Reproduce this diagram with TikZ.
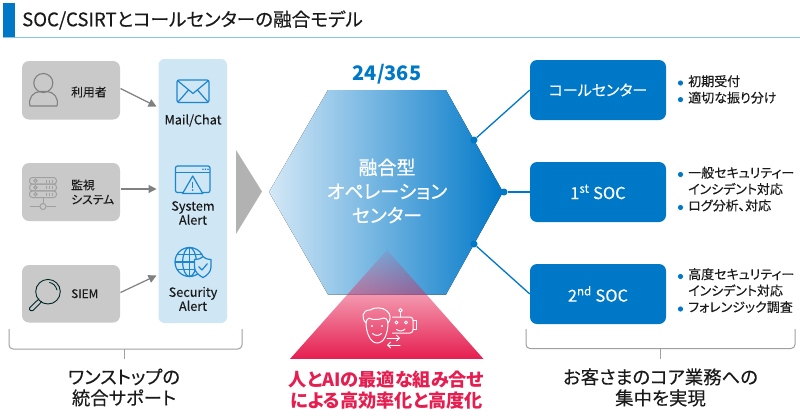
\documentclass[tikz,border=0pt]{standalone}
\usepackage{fontspec}
\setmainfont{Noto Sans CJK JP}[RawFeature=+palt,UprightFeatures={FakeBold=0.2}]
\newfontfamily\hexfont{Noto Sans CJK JP}[RawFeature=+palt,UprightFeatures={FakeBold=0.5}]
\usetikzlibrary{arrows.meta,fadings}
\definecolor{mainblue}{HTML}{0078C8}
\definecolor{iconblue}{HTML}{1A86D0}
\definecolor{panelblue}{HTML}{CFE6F5}
\definecolor{lightstart}{HTML}{D4E8F6}
\definecolor{boxgrey}{HTML}{C9C9C9}
\definecolor{arrowgrey}{HTML}{808080}
\definecolor{brgrey}{HTML}{A0A0A0}
\definecolor{ink}{HTML}{1A1A1A}
\definecolor{redtxt}{HTML}{E61E50}
\definecolor{underl}{HTML}{86C4E4}
\tikzfading[name=trifade,top color=transparent!92,bottom color=transparent!0]
\newcommand{\fs}[2]{\fontsize{#1}{#2}\selectfont}
\tikzset{
  greybox/.style={fill=boxgrey,rounded corners=7pt},
  bluebox/.style={fill=mainblue,rounded corners=7pt,minimum width=136pt,minimum height=60pt,inner sep=0pt,text=white,font=\fs{15}{18}},
  greytxt/.style={text=ink,font=\fs{11.8}{14.5},anchor=west,inner sep=0pt,align=left},
  paneltxt/.style={text=ink,font=\fs{12.7}{14},inner sep=0pt,align=center},
  bultxt/.style={text=ink,font=\fs{13}{16.4},anchor=north west,inner sep=0pt,align=left},
  bigtxt/.style={text=ink,font=\fs{18.4}{21},inner sep=0pt,align=center},
  feed/.style={draw=arrowgrey,line width=1.2pt,-{Triangle[length=8pt,width=8pt]}},
  link/.style={draw=mainblue,line width=1.3pt},
  lnkdot/.style={circle,fill=mainblue,minimum size=7pt,inner sep=0pt},
  bdot/.style={fill=mainblue},
  brack/.style={draw=brgrey,line width=1pt,rounded corners=4pt},
  icb/.style={draw=iconblue,line width=1.2pt,line join=round},
  ics/.style={draw=white,line width=1pt,line cap=round,line join=round},
}
\begin{document}
\begin{tikzpicture}[x=1pt,y=-1pt]
\useasboundingbox (0,0) rectangle (800,418);
\fill[white] (0,0) rectangle (800,418);
% header
\draw[underl,line width=1.2pt] (3,37.2) -- (800,37.2);
\fill[mainblue] (3,3) rectangle (15,37);
\node[anchor=west,inner sep=0pt,text=ink,font=\fs{18.6}{22}] (title) at (22,20) {SOC/CSIRTとコールセンターの融合モデル};
% left grey boxes
\fill[greybox] (22,61) rectangle (120,119.5);
\fill[greybox] (22,163) rectangle (120,221);
\fill[greybox] (22,265) rectangle (120,322.5);
\node[greytxt] (t1) at (71,92) {利用者};
\node[greytxt] (t2) at (71,192) {監視\\システム};
\node[greytxt] (t3) at (71,293.7) {SIEM};
% person icon
\draw[arrowgrey,line width=1.1pt] (43.3,83) circle (9.5);
\draw[arrowgrey,line width=1.1pt,line join=round] (30,106) .. controls (28,98) and (33,92) .. (40,91.5) -- (47,91.5) .. controls (54,92) and (59,98) .. (57,106) -- cycle;
% server icon
\begin{scope}[brgrey,line width=1pt]
\foreach \y in {177.5,184.2,190.9}{
  \draw[rounded corners=3pt] (29.5,\y) rectangle (56.5,\y+6.7);
  \draw (35.5,\y+3.3) circle (1.7);
  \draw (46,\y+2) -- (46,\y+5) (49,\y+2) -- (49,\y+5) (52,\y+2) -- (52,\y+5);
}
\draw (43,197.6) -- (43,203) (30,206.5) -- (40,206.5) (46,206.5) -- (56,206.5);
\draw (43,206.5) circle (3);
\end{scope}
% magnifier icon
\begin{scope}[line width=.9pt,line cap=round]
\draw[black!70!teal] (48,291.7) circle (12.3);
\draw[black!70!teal] (49.5,282.5) .. controls (53,283) and (56,286) .. (57,290);
\draw[black!70!teal,line join=round] (39,299) -- (35.5,302) -- (29.5,308) .. controls (29,311) and (32,311.5) .. (33,310.5) -- (39.5,304) -- (41.5,301.5);
\end{scope}
% panel
\fill[panelblue,rounded corners=6pt] (158.5,59) rectangle (227,323);
\node[paneltxt] (p1) at (193,120.5) {Mail/Chat};
\node[paneltxt] (p2) at (193,213) {System\\Alert};
\node[paneltxt] (p3) at (193,299) {Security\\Alert};
% mail icon
\draw[icb,rounded corners=2pt] (177,80) rectangle (209,102.5);
\draw[icb] (178,81) -- (193,93.5) -- (208,81) (178,102) -- (188.5,90) (208,102) -- (197.5,90);
% system alert icon
\draw[icb,rounded corners=2pt] (175.5,166) rectangle (210,192.5);
\draw[icb] (175.5,172.5) -- (210,172.5);
\fill[iconblue] (203,169.2) circle (.8) (205.5,169.2) circle (.8) (208,169.2) circle (.8);
\draw[icb,fill=panelblue] (192.7,176) -- (202.8,193.5) -- (182.6,193.5) -- cycle;
\draw[iconblue,line width=1.5pt] (192.7,181.5) -- (192.7,187.5);
\fill[iconblue] (192.7,190) circle (.95);
% security icon
\draw[icb] (189.5,262) circle (14.5);
\draw[icb] (189.5,262) ellipse (6.8 and 14.5);
\draw[icb] (175,262) -- (204,262) (177,254.5) -- (202,254.5) (177,269.5) -- (202,269.5) (189.5,247.5) -- (189.5,276.5);
\draw[icb,fill=panelblue] (203,256.5) .. controls (206,259) and (208,259.5) .. (211,259.5) -- (211,267) .. controls (211,272) and (207,275.5) .. (203,277.5) .. controls (199,275.5) and (194.5,272) .. (194.5,267) -- (194.5,259.5) .. controls (198,259.5) and (200,259) .. (203,256.5) -- cycle;
\draw[icb] (198.5,266.5) -- (202,270) -- (207.5,263.5);
% feed arrows
\coordinate (a1) at (156.5,106.5);
\coordinate (a2) at (156.5,189);
\coordinate (a3) at (156.5,275.5);
\coordinate (s1) at (120.5,88.5);
\coordinate (s2) at (120.5,189);
\coordinate (s3) at (120.5,292.5);
\draw[feed] (s1) -- (a1);
\draw[feed] (s2) -- (a2);
\draw[feed] (s3) -- (a3);
% big grey triangle
\fill[black!30] (236,150) -- (262,191.5) -- (236,234) -- cycle;
% hexagon
\fill[left color=lightstart,right color=mainblue] (269,192) -- (328,90) -- (446,90) -- (503,192) -- (446,294.5) -- (328,294.5) -- cycle;
\node[text=mainblue,font=\fs{20}{24}\bfseries,inner sep=0pt] (ttl) at (387,74) {24/365};
\node[text=white,font=\hexfont\fs{19}{24},inner sep=0pt,align=center] (hex) at (387,191) {融合型\\オペレーション\\センター};
% red triangle
\fill[redtxt,path fading=trifade] (387,250) -- (483.5,359) -- (290,359) -- cycle;
% face icon
\draw[ics] (366,322) .. controls (366,334) and (371,343) .. (377,343) .. controls (384,343) and (388,334) .. (388,322);
\draw[ics] (366,323) .. controls (361,318) and (362,310) .. (370,310) .. controls (374,307) and (383,307) .. (387,311) .. controls (391,314) and (391,320) .. (388,323) .. controls (387,319) and (386,318) .. (384,318) .. controls (378,320) and (372,320) .. (369,318) .. controls (367,319) and (366,321) .. (366,323);
\fill[white] (372,326) circle (1.1) (382,326) circle (1.1);
\draw[ics] (372.5,333.5) .. controls (375,336) and (379,336) .. (381.5,333.5);
% robot icon
\draw[ics,rounded corners=3pt] (392.5,317) -- (413,317) -- (413,333) -- (398,333) -- (392.5,333);
\draw[ics] (413,320.5) -- (416.5,320.5) -- (416.5,329) -- (413,329);
\draw[ics] (400.5,317) -- (400.5,312.5);
\draw[ics] (400.5,310.3) circle (1.8);
\draw[ics] (396.5,322.5) circle (1.5);
\draw[ics] (406,322.5) circle (1.5);
\draw[ics] (396.5,329.5) .. controls (399,331.5) and (403,331.5) .. (405,329);
\draw[ics,-{Straight Barb[length=3pt,width=6pt]}] (387,338) -- (400,338);
\draw[ics,-{Straight Barb[length=3pt,width=6pt]}] (400,345) -- (387,345);
% right boxes
\node[bluebox] (cc) at (598,90) {コールセンター};
\node[bluebox,font=\fs{16.5}{18}] (s1st) at (598,192) {1\textsuperscript{st} SOC};
\node[bluebox,font=\fs{16.5}{18}] (s2nd) at (598,294) {2\textsuperscript{nd} SOC};
% connectors
\node[lnkdot] (d1) at (474,140) {};
\node[lnkdot] (d2) at (504,192) {};
\node[lnkdot] (d3) at (474,244) {};
\draw[link] (d1) -- (cc.west);
\draw[link] (d2) -- (s1st.west);
\draw[link] (d3) -- (s2nd.west);
% bullets
\fill[bdot] (680.5,83) circle (2.6) (680.5,99.6) circle (2.6);
\fill[bdot] (680.5,174.5) circle (2.6) (680.5,207.5) circle (2.6);
\fill[bdot] (680.5,276.5) circle (2.6) (680.5,309) circle (2.6);
\node[bultxt] (b1) at (688,75) {初期受付\\適切な振り分け};
\node[bultxt] (b2) at (688,166.5) {一般セキュリティー\\インシデント対応\\ログ分析、対応};
\node[bultxt] (b3) at (688,268) {高度セキュリティー\\インシデント対応\\フォレンジック調査};
% brackets
\draw[brack] (9,329) -- (9,349) -- (242,349) -- (242,329);
\draw[brgrey,line width=1pt] (124,349) -- (124,359);
\draw[brack] (526,329) -- (526,348.5) -- (795,348.5) -- (795,329);
\draw[brgrey,line width=1pt] (660.7,348.5) -- (660.7,359);
% bottom labels
\node[bigtxt] (l1) at (124,387.5) {ワンストップの\\統合サポート};
\node[bigtxt] (l3) at (660.5,387.5) {お客さまのコア業務への\\集中を実現};
\node[text=redtxt,font=\fs{18.2}{20.5}\bfseries,inner sep=0pt,align=center] (l2) at (386.5,390) {人とAIの最適な組み合せ\\による高効率化と高度化};
\end{tikzpicture}
\end{document}
